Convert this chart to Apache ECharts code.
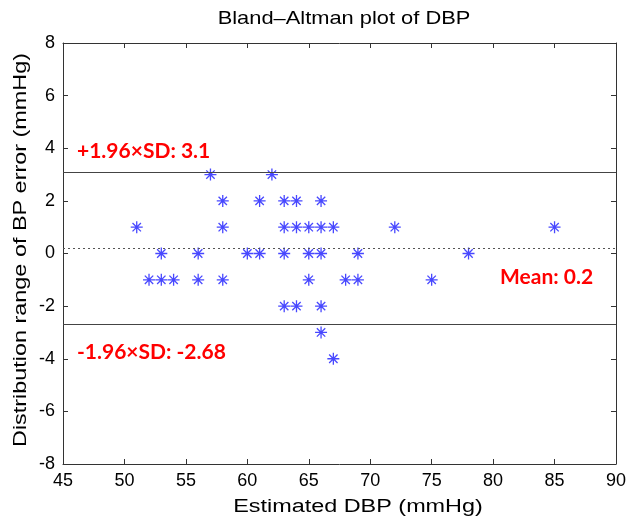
<!DOCTYPE html>
<html>
<head>
<meta charset="utf-8">
<script src="https://cdn.jsdelivr.net/npm/echarts@6/dist/echarts.min.js"></script>
<style>
  html, body { margin: 0; padding: 0; background: #fff; }
  #main { width: 629px; height: 520px; }
</style>
</head>
<body>
<div id="main"></div>
<script>
// estimated DBP (x) and BP error (y)
var estDBP = [51, 52, 53, 53, 54, 56, 56, 57, 58, 58, 58, 60, 61, 61, 62,
  63, 63, 63, 63, 64, 64, 64, 65, 65, 65, 66, 66, 66, 66, 66, 67, 67,
  68, 69, 69, 72, 75, 78, 85];
var bpError = [1, -1, 0, -1, -1, 0, -1, 3, 2, 1, -1, 0, 2, 0, 3,
  2, 1, 0, -2, 2, 1, -2, 1, 0, -1, 2, 1, 0, -2, -3, 1, -4,
  -1, 0, -1, 1, -1, 0, 1];
var meanVal = 0.2;
var upperLoA = 3.1;
var lowerLoA = -2.68;

var points = [];
for (var i = 0; i < estDBP.length; i++) {
  points.push([estDBP[i], bpError[i]]);
}

var plainFont = "'Liberation Sans', Arial, sans-serif";
var boldFont = "Lato, 'Open Sans', sans-serif";

var myChart = echarts.init(document.getElementById('main'));

// axis frame: ticks inside, like matlab
function frameAxis (extra) {
  var ax = {
    type: 'value',
    axisLine: { show: true, onZero: false, lineStyle: { color: '#333', width: 1 } },
    axisTick: { show: true, inside: true, length: 5, lineStyle: { color: '#333' } },
    axisLabel: { fontFamily: plainFont, fontSize: 18, color: '#000' },
    splitLine: { show: false }
  };
  for (var k in extra) ax[k] = extra[k];
  return ax;
}

var option = {
  animation: false,
  grid: { left: 63, right: 9, top: 43, bottom: 56 },
  xAxis: [
    frameAxis({ min: 45, max: 90, interval: 5, position: 'bottom' }),
    frameAxis({ min: 45, max: 90, interval: 5, position: 'top', axisLabel: { show: false } })
  ],
  yAxis: [
    frameAxis({ min: -8, max: 8, interval: 2, position: 'left' }),
    frameAxis({ min: -8, max: 8, interval: 2, position: 'right', axisLabel: { show: false } })
  ],
  series: [{
    type: 'scatter',
    data: points,
    symbol: 'path://M6,0L6,12M0,6L12,6M1.8,1.8L10.2,10.2M1.8,10.2L10.2,1.8',
    symbolSize: 12,
    itemStyle: { color: 'rgba(0,0,0,0)', borderColor: '#1a1aff', borderWidth: 1.3 },
    markLine: {
      silent: true,
      symbol: 'none',
      label: { show: false },
      data: [
        { yAxis: upperLoA, lineStyle: { color: '#444', type: 'solid', width: 1.2 } },
        { yAxis: meanVal, lineStyle: { color: '#555', type: [2, 3], width: 1.2 } },
        { yAxis: lowerLoA, lineStyle: { color: '#444', type: 'solid', width: 1.2 } }
      ]
    },
    z: 3
  }],
  graphic: [
    // title and axis names, a bit stretched like the original export
    { type: 'text', x: 344, y: 19, scaleX: 1.15,
      style: { text: 'Bland\u2013Altman plot of DBP', fill: '#000', font: '19px ' + plainFont, align: 'center', verticalAlign: 'middle' } },
    { type: 'text', x: 358, y: 507, scaleX: 1.3,
      style: { text: 'Estimated DBP (mmHg)', fill: '#000', font: '18px ' + plainFont, align: 'center', verticalAlign: 'middle' } },
    { type: 'text', x: 21, y: 250, rotation: Math.PI / 2, scaleX: 1.3,
      style: { text: 'Distribution range of BP error (mmHg)', fill: '#000', font: '18px ' + plainFont, align: 'center', verticalAlign: 'middle' } },
    // limit labels
    { type: 'text', left: 77, top: 141, style: { text: '+1.96\u00d7SD: ' + upperLoA, fill: '#ff0000', font: 'bold 21px ' + boldFont } },
    { type: 'text', left: 77, top: 342, style: { text: '-1.96\u00d7SD: ' + lowerLoA, fill: '#ff0000', font: 'bold 21px ' + boldFont } },
    { type: 'text', left: 500, top: 267, style: { text: 'Mean: ' + meanVal, fill: '#ff0000', font: 'bold 21px ' + boldFont } }
  ]
};

myChart.setOption(option);
</script>
</body>
</html>
